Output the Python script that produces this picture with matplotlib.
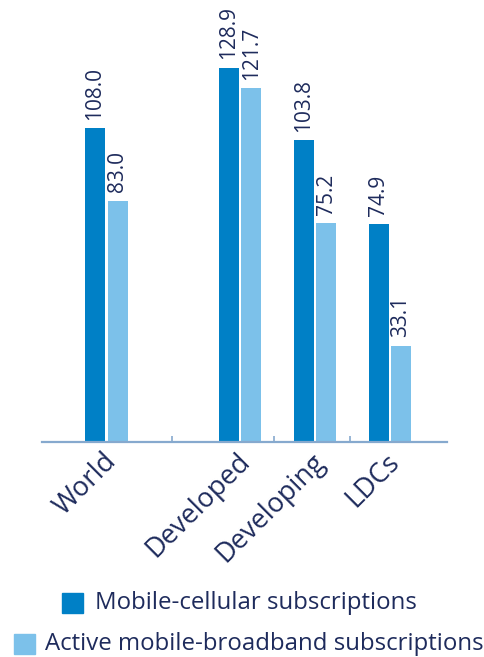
import matplotlib
matplotlib.use("Agg")
import matplotlib.pyplot as plt
from matplotlib.patches import Rectangle

# Subscriptions per 100 inhabitants
categories = ["World", "Developed", "Developing", "LDCs"]
mobile_cellular = [108.0, 128.9, 103.8, 74.9]
mobile_broadband = [83.0, 121.7, 75.2, 33.1]
series_names = ["Mobile-cellular subscriptions", "Active mobile-broadband subscriptions"]

# layout
positions = [0.0, 1.785, 2.78, 3.78]
separators = [0.87, 2.24, 3.25]
bar_w = 0.267
offset = 0.15
dark = "#0080C6"
light = "#7CC1EA"
text_col = "#1E2B5C"
axis_col = "#86A9CE"

plt.rcParams["font.family"] = ["Open Sans", "DejaVu Sans"]

W, H = 485, 657
fig = plt.figure(figsize=(W / 100, H / 100), dpi=100)
ax = fig.add_axes([42 / W, (H - 441.7) / H, 405 / W, 406.4 / H])

ax.bar([p - offset for p in positions], mobile_cellular, width=bar_w, color=dark)
ax.bar([p + offset for p in positions], mobile_broadband, width=bar_w, color=light)

for p, v in zip(positions, mobile_cellular):
    ax.annotate(f"{v:.1f}", (p - offset, v), xytext=(0, 6), textcoords="offset points",
                rotation=90, ha="center", va="bottom", fontsize=15, color=text_col,
                annotation_clip=False)
for p, v in zip(positions, mobile_broadband):
    ax.annotate(f"{v:.1f}", (p + offset, v), xytext=(0, 6), textcoords="offset points",
                rotation=90, ha="center", va="bottom", fontsize=15, color=text_col,
                annotation_clip=False)

ax.set_xlim(-0.857, 4.543)
ax.set_ylim(0, 140)
for s in ["top", "right", "left"]:
    ax.spines[s].set_visible(False)
ax.spines["bottom"].set_color(axis_col)
ax.spines["bottom"].set_linewidth(1.6)
ax.set_yticks([])
ax.set_xticks(separators)
ax.set_xticklabels([])
ax.tick_params(axis="x", direction="in", length=4.5, width=1.2, color=axis_col)

for p, name in zip(positions, categories):
    ax.annotate(name, (p, 0), xytext=(6, -16), textcoords="offset pixels",
                rotation=45, rotation_mode="anchor", ha="right", va="center",
                fontsize=19.5, color=text_col, annotation_clip=False)

# legend drawn as centred lines
legend_rows = [(62, 593, dark, 95), (14, 634, light, 45)]
for (sx, sy, col, tx), name in zip(legend_rows, series_names):
    fig.patches.append(Rectangle((sx / W, 1 - (sy + 20) / H), 21 / W, 20 / H,
                                 transform=fig.transFigure, color=col))
    fig.text(tx / W, 1 - (sy + 10) / H, name, ha="left", va="center",
             fontsize=17.3, color=text_col)

fig.savefig("out.png", dpi=100)
